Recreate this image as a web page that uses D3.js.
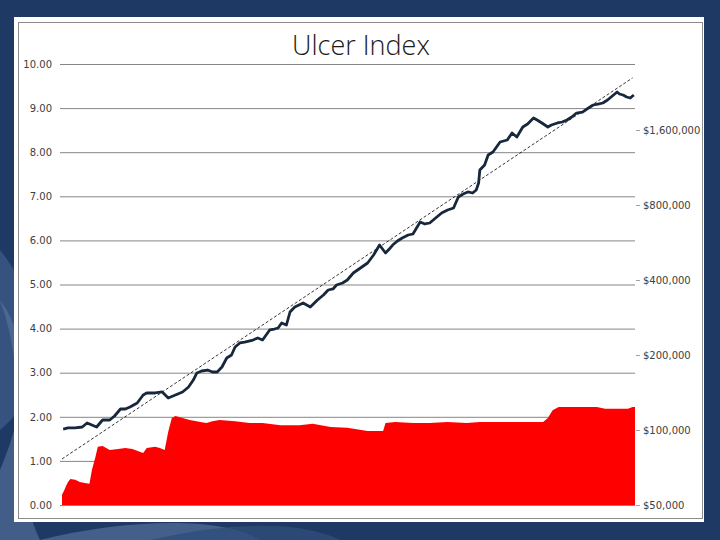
<!DOCTYPE html>
<html><head><meta charset="utf-8">
<script src="https://cdn.jsdelivr.net/npm/d3@7"></script>
<style>html,body{margin:0;padding:0;background:#1e3a64;}svg{display:block;}</style>
</head><body>
<svg id="c" width="720" height="540"></svg>
<script>
// ---- data ----
const chartTitle = "Ulcer Index";
const leftTicks = [0,1,2,3,4,5,6,7,8,9,10];
const rightTicks = [50000,100000,200000,400000,800000,1600000];
// equity curve (log, right axis): month index and value
const equityMonths = [1,5,11,17,21,25,29,34,40,44,49,53,57,63,68,71,78,84,89,95,101,106,110,113,117,122,126,130,134,138,142,145,149,153,160,164,168,174,178,181,184,188,191,195,202,208,214,219,223,227,230,235,239,244,250,256,261,266,271,275,277,281,285,290,294,300,304,308,313,318,323,328,332,336,340,344,347,349,350,354,357,361,367,373,377,381,386,390,395,398,402,407,410,415,419,423,427,431,436,441,445,449,453,457,459,462,465,467,470,473,476,478,479];
const equityValues = [100900,101900,101900,102800,106700,104700,102800,109700,109700,113800,121400,121400,123700,128300,138200,140800,140800,142100,134400,138200,142100,148800,158700,169400,172500,174100,170900,170900,179000,194500,200000,215400,223500,225500,229700,234000,229700,252000,254300,256700,268800,263900,297600,311700,323400,311700,332500,348200,364700,368100,381900,389100,400000,426800,446900,468100,504000,552700,513400,537700,552700,573600,589700,606300,611900,683700,671200,677400,709500,743100,763800,778100,861400,885700,902200,893800,919000,980300,1105500,1158000,1269900,1305700,1432000,1458800,1556200,1499900,1645000,1691200,1787700,1754900,1707100,1645000,1675700,1707100,1722800,1754900,1804300,1871500,1888900,1960600,2015900,2034500,2053400,2111200,2150500,2210900,2273000,2231500,2210900,2170600,2150500,2190600,2210900];
// ulcer index (left axis)
const ulcerMonths = [0,2,3,5,7,11,15,19,23,25,28,30,34,37,40,47,53,59,64,68,71,78,82,86,89,92,95,101,107,116,121,126,132,145,157,168,183,199,210,225,239,256,269,271,279,294,308,323,339,350,367,384,403,407,411,416,423,448,455,462,474,478,480];
const ulcerValues = [0.23,0.34,0.41,0.52,0.59,0.57,0.52,0.50,0.48,0.79,1.09,1.32,1.34,1.29,1.25,1.27,1.29,1.27,1.22,1.18,1.29,1.32,1.29,1.25,1.66,1.97,2.02,1.97,1.93,1.88,1.86,1.90,1.93,1.90,1.86,1.86,1.81,1.81,1.84,1.77,1.75,1.68,1.68,1.86,1.88,1.86,1.86,1.88,1.86,1.88,1.88,1.88,1.88,1.97,2.15,2.22,2.22,2.22,2.18,2.18,2.18,2.22,2.22];
// trend line endpoints
const trendMonths = [0,478];
const trendValues = [76500,2590000];

// ---- drawing ----
const svg = d3.select("#c");
const W=720,H=540;
const plot = {l:62,r:635,t:64,b:505};

// background slide
svg.append("rect").attr("width",W).attr("height",H).attr("fill","#1e3a64");
const sw = svg.append("g");
sw.append("path").attr("d","M0,250 C40,300 60,380 0,430 Z").attr("fill","#3c5a86").attr("opacity",0.8);
sw.append("path").attr("d","M0,300 C30,340 30,400 0,470 L0,540 L40,540 C10,480 30,380 0,300 Z").attr("fill","#5a76a0").attr("opacity",0.6);
sw.append("path").attr("d","M40,540 C120,520 220,515 260,540 Z").attr("fill","#4e6a94").attr("opacity",0.8);
sw.append("path").attr("d","M150,540 C230,522 300,520 340,540 Z").attr("fill","#2f4d7a").attr("opacity",0.8);

// card
svg.append("rect").attr("x",14).attr("y",17).attr("width",690).attr("height",505).attr("fill","#ffffff");
svg.append("rect").attr("x",18.5).attr("y",22.5).attr("width",684).attr("height",496).attr("fill","none").attr("stroke","#8c8c8c").attr("stroke-width",1);

const x = d3.scaleLinear().domain([0,480]).range([plot.l,plot.r]);
const yL = d3.scaleLinear().domain([0,10]).range([plot.b,plot.t]);
const yR = d3.scaleLog().base(2).domain([50000, 50000*Math.pow(2,441/75)]).range([plot.b,plot.t]);

// gridlines
const grid = svg.append("g").attr("transform",`translate(${plot.l-2},0)`)
  .call(d3.axisLeft(yL).tickValues(leftTicks).tickSize(-(plot.r-plot.l+2)).tickFormat(""));
grid.select(".domain").remove();
grid.selectAll("line").attr("stroke","#868686").attr("stroke-width",1);

// left labels
const la = svg.append("g").attr("transform",`translate(${plot.l-2},0)`)
  .call(d3.axisLeft(yL).tickValues(leftTicks).tickSize(0).tickPadding(8).tickFormat(d3.format(".2f")));
la.select(".domain").remove();
la.selectAll("text").attr("font-family","DejaVu Sans, Verdana, sans-serif").attr("font-size","10px").attr("fill","#404040");

// right axis
const ra = svg.append("g").attr("transform",`translate(${plot.r+1},0)`)
  .call(d3.axisRight(yR).tickValues(rightTicks).tickSize(4).tickPadding(3).tickFormat(d=>"$"+d3.format(",")(d)));
ra.select(".domain").remove();
ra.selectAll("line").attr("stroke","#a0a0a0");
ra.selectAll("text").attr("font-family","DejaVu Sans, Verdana, sans-serif").attr("font-size","10px").attr("fill","#404040");

// ulcer area
const ulcer = ulcerMonths.map((m,i)=>({m,v:ulcerValues[i]}));
svg.append("path").datum(ulcer)
  .attr("d", d3.area().x(d=>x(d.m)).y0(yL(0)).y1(d=>yL(d.v)))
  .attr("fill","#ff0000");

// trend
const trend = trendMonths.map((m,i)=>({m,v:trendValues[i]}));
svg.append("path").datum(trend)
  .attr("d", d3.line().x(d=>x(d.m)).y(d=>yR(d.v)))
  .attr("fill","none").attr("stroke","#000").attr("stroke-width",0.8).attr("stroke-dasharray","3,2");

// equity line
const eq = equityMonths.map((m,i)=>({m,v:equityValues[i]}));
svg.append("path").datum(eq)
  .attr("d", d3.line().x(d=>x(d.m)).y(d=>yR(d.v)))
  .attr("fill","none").attr("stroke","#17283d").attr("stroke-width",2.8).attr("stroke-linejoin","round");

// title
svg.append("text").attr("x",361).attr("y",55).attr("text-anchor","middle")
  .attr("font-family","Open Sans, Lato, sans-serif").attr("font-weight",300).attr("font-size","27px").attr("fill","#1a1a1a")
  .text(chartTitle);
</script>
</body></html>
